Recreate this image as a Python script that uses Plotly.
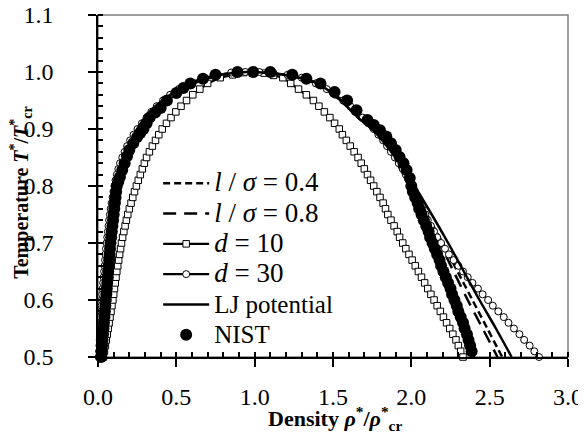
import plotly.graph_objects as go

# ---------------- data ----------------
T_grid = [0.50, 0.51, 0.52, 0.53, 0.54, 0.55, 0.56, 0.57, 0.58, 0.59,
          0.60, 0.61, 0.62, 0.63, 0.64, 0.65, 0.66, 0.67, 0.68, 0.69,
          0.70, 0.71, 0.72, 0.73, 0.74, 0.75, 0.76, 0.77, 0.78, 0.79,
          0.80, 0.81, 0.82, 0.83, 0.84, 0.85, 0.86, 0.87, 0.88, 0.89,
          0.90, 0.91, 0.92, 0.93, 0.94, 0.95, 0.96, 0.97, 0.98, 0.99]

# d = 10 (squares)
d10_vap = [0.035, 0.041, 0.047, 0.053, 0.059, 0.065, 0.071, 0.077, 0.083, 0.089,
           0.095, 0.100, 0.105, 0.110, 0.115, 0.120, 0.126, 0.132, 0.138, 0.144,
           0.150, 0.157, 0.165, 0.173, 0.181, 0.190, 0.200, 0.211, 0.222, 0.233,
           0.245, 0.257, 0.270, 0.283, 0.296, 0.310, 0.328, 0.347, 0.367, 0.388,
           0.410, 0.437, 0.466, 0.497, 0.530, 0.565, 0.605, 0.650, 0.700, 0.780]
d10_liq = [2.330, 2.315, 2.300, 2.285, 2.265, 2.245, 2.225, 2.205, 2.185, 2.165,
           2.145, 2.125, 2.105, 2.085, 2.065, 2.045, 2.025, 2.005, 1.985, 1.965,
           1.945, 1.925, 1.910, 1.890, 1.870, 1.850, 1.835, 1.820, 1.800, 1.780,
           1.760, 1.740, 1.720, 1.700, 1.680, 1.660, 1.635, 1.610, 1.585, 1.560,
           1.540, 1.510, 1.480, 1.445, 1.410, 1.375, 1.330, 1.280, 1.230, 1.180]
d10_top_rho = [0.86, 0.93, 1.00, 1.06, 1.12]
d10_top_T = [0.995, 0.999, 1.000, 0.998, 0.994]

# d = 30 (open circles)
d30_vap = [0.005, 0.007, 0.009, 0.011, 0.013, 0.015, 0.017, 0.019, 0.021, 0.023,
           0.025, 0.027, 0.030, 0.033, 0.036, 0.039, 0.042, 0.045, 0.048, 0.051,
           0.055, 0.059, 0.063, 0.067, 0.071, 0.076, 0.081, 0.087, 0.093, 0.099,
           0.105, 0.112, 0.120, 0.130, 0.141, 0.155, 0.170, 0.186, 0.205, 0.227,
           0.252, 0.280, 0.310, 0.340, 0.375, 0.415, 0.460, 0.515, 0.580, 0.670]
d30_liq = [2.815, 2.785, 2.755, 2.720, 2.690, 2.655, 2.620, 2.590, 2.555, 2.520,
           2.490, 2.455, 2.425, 2.390, 2.360, 2.330, 2.300, 2.270, 2.240, 2.215,
           2.190, 2.165, 2.145, 2.125, 2.105, 2.090, 2.070, 2.055, 2.040, 2.020,
           2.000, 1.985, 1.965, 1.945, 1.920, 1.895, 1.870, 1.845, 1.820, 1.790,
           1.760, 1.725, 1.690, 1.650, 1.610, 1.565, 1.515, 1.460, 1.390, 1.300]
d30_top_rho = [0.76, 0.85, 0.94, 1.03, 1.12, 1.21]
d30_top_T = [0.995, 0.999, 1.000, 1.000, 0.998, 0.995]

# LJ potential (solid line)
lj_rho = [0.015, 0.030, 0.045, 0.060, 0.080, 0.100, 0.125, 0.170, 0.250, 0.330,
          0.410, 0.520, 0.600, 0.700, 0.800, 0.950, 1.100, 1.250, 1.400, 1.550,
          1.660, 1.750, 1.900, 2.020, 2.130, 2.235, 2.335, 2.435, 2.540, 2.640]
lj_T = [0.50, 0.55, 0.60, 0.65, 0.70, 0.75, 0.80, 0.85, 0.90, 0.93,
        0.95, 0.97, 0.98, 0.99, 0.996, 1.00, 0.998, 0.992, 0.98, 0.95,
        0.92, 0.90, 0.85, 0.80, 0.75, 0.70, 0.65, 0.60, 0.55, 0.50]

# l/sigma = 0.4 (short dash)
l04_rho = [0.020, 0.035, 0.050, 0.065, 0.085, 0.105, 0.130, 0.175, 0.260, 0.340,
           0.420, 0.530, 0.610, 0.710, 0.820, 0.950, 1.100, 1.250, 1.400, 1.550,
           1.660, 1.750, 1.890, 2.000, 2.100, 2.200, 2.295, 2.390, 2.485, 2.580]
l04_T = [0.50, 0.55, 0.60, 0.65, 0.70, 0.75, 0.80, 0.85, 0.90, 0.93,
         0.95, 0.97, 0.98, 0.99, 0.996, 1.00, 0.998, 0.992, 0.98, 0.95,
         0.92, 0.90, 0.85, 0.80, 0.75, 0.70, 0.65, 0.60, 0.55, 0.50]

# l/sigma = 0.8 (long dash)
l08_rho = [0.020, 0.035, 0.050, 0.065, 0.085, 0.105, 0.130, 0.175, 0.260, 0.340,
           0.420, 0.530, 0.610, 0.710, 0.820, 0.950, 1.100, 1.250, 1.400, 1.550,
           1.660, 1.750, 1.885, 1.990, 2.085, 2.180, 2.270, 2.360, 2.455, 2.550]
l08_T = [0.50, 0.55, 0.60, 0.65, 0.70, 0.75, 0.80, 0.85, 0.90, 0.93,
         0.95, 0.97, 0.98, 0.99, 0.996, 1.00, 0.998, 0.992, 0.98, 0.95,
         0.92, 0.90, 0.85, 0.80, 0.75, 0.70, 0.65, 0.60, 0.55, 0.50]

# NIST (filled circles)
nist_rho = [0.020, 0.023, 0.026, 0.029, 0.032, 0.035, 0.038, 0.041, 0.044, 0.047,
            0.050, 0.053, 0.056, 0.059, 0.062, 0.065, 0.068, 0.071, 0.074, 0.077,
            0.080, 0.084, 0.088, 0.092, 0.096, 0.100, 0.104, 0.108, 0.112, 0.116,
            0.120, 0.130, 0.140, 0.155, 0.170, 0.185, 0.200, 0.225, 0.250, 0.270,
            0.290, 0.310, 0.330, 0.365, 0.400, 0.440, 0.500, 0.545, 0.590, 0.670,
            0.750, 0.890, 0.990, 1.100, 1.240, 1.330, 1.420, 1.510, 1.590, 1.650,
            1.720, 1.760, 1.800, 1.840, 1.870, 1.900, 1.925, 1.950, 1.970, 1.990,
            2.000, 2.010, 2.025, 2.040, 2.050, 2.065, 2.080, 2.095, 2.110, 2.120,
            2.135, 2.150, 2.165, 2.180, 2.190, 2.205, 2.220, 2.235, 2.250, 2.260,
            2.275, 2.290, 2.300, 2.315, 2.330, 2.340, 2.355, 2.365, 2.375, 2.385]
nist_T = [0.50, 0.51, 0.52, 0.53, 0.54, 0.55, 0.56, 0.57, 0.58, 0.59,
          0.60, 0.61, 0.62, 0.63, 0.64, 0.65, 0.66, 0.67, 0.68, 0.69,
          0.70, 0.71, 0.72, 0.73, 0.74, 0.75, 0.76, 0.77, 0.78, 0.79,
          0.80, 0.808, 0.816, 0.828, 0.84, 0.852, 0.863, 0.875, 0.886, 0.893,
          0.90, 0.91, 0.92, 0.929, 0.937, 0.95, 0.963, 0.972, 0.98, 0.988,
          0.995, 1.00, 1.00, 1.00, 0.995, 0.988, 0.98, 0.965, 0.95, 0.933,
          0.916, 0.907, 0.898, 0.887, 0.875, 0.863, 0.851, 0.84, 0.828, 0.814,
          0.80, 0.79, 0.78, 0.77, 0.76, 0.75, 0.74, 0.73, 0.72, 0.71,
          0.70, 0.69, 0.68, 0.67, 0.66, 0.65, 0.64, 0.63, 0.62, 0.61,
          0.60, 0.59, 0.58, 0.57, 0.56, 0.55, 0.54, 0.53, 0.52, 0.51]

x_ticks = [0.0, 0.5, 1.0, 1.5, 2.0, 2.5, 3.0]
y_ticks = [0.5, 0.6, 0.7, 0.8, 0.9, 1.0, 1.1]

x_title = "<b>Density <i>ρ</i><sup>*</sup>/<i>ρ</i><sup>*</sup><sub>cr</sub></b>"
y_title = "<b>Temperature <i>T</i><sup>*</sup>/<i>T</i><sup>*</sup><sub>cr</sub></b>"

# ---------------- assemble ----------------
d10_x = d10_vap + d10_top_rho + d10_liq[::-1]
d10_y = T_grid + d10_top_T + T_grid[::-1]
d30_x = d30_vap + d30_top_rho + d30_liq[::-1]
d30_y = T_grid + d30_top_T + T_grid[::-1]

FONT = "Liberation Serif"
MATH = '<span style="font-size:27px">{}</span>'
PLAIN = '<span style="font-size:25px">{}</span>'
NB = "\u00a0"

fig = go.Figure()

fig.add_trace(go.Scatter(
    x=l04_rho, y=l04_T, mode="lines",
    name=MATH.format(f"<i>l</i>{NB}/{NB}<i>σ</i>{NB}={NB}0.4"),
    line=dict(color="black", width=2.5, dash="7px,4px", shape="spline", smoothing=0.8),
    cliponaxis=False))
fig.add_trace(go.Scatter(
    x=l08_rho, y=l08_T, mode="lines",
    name=MATH.format(f"<i>l</i>{NB}/{NB}<i>σ</i>{NB}={NB}0.8"),
    line=dict(color="black", width=2.5, dash="13px,8px", shape="spline", smoothing=0.8),
    cliponaxis=False))
fig.add_trace(go.Scatter(
    x=d10_x, y=d10_y, mode="lines+markers",
    name=MATH.format(f"<i>d</i>{NB}={NB}10"),
    line=dict(color="black", width=2.2),
    marker=dict(symbol="square", size=6.5, color="white", line=dict(color="black", width=1)),
    cliponaxis=False))
fig.add_trace(go.Scatter(
    x=d30_x, y=d30_y, mode="lines+markers",
    name=MATH.format(f"<i>d</i>{NB}={NB}30"),
    line=dict(color="black", width=2.2),
    marker=dict(symbol="circle", size=7, color="white", line=dict(color="black", width=1)),
    cliponaxis=False))
fig.add_trace(go.Scatter(
    x=lj_rho, y=lj_T, mode="lines", name=PLAIN.format("LJ potential"),
    line=dict(color="black", width=2.5, shape="spline", smoothing=0.8),
    cliponaxis=False))
fig.add_trace(go.Scatter(
    x=nist_rho, y=nist_T, mode="markers", name=PLAIN.format("NIST"),
    marker=dict(symbol="circle", size=12, color="black"),
    cliponaxis=False))

fig.add_shape(type="rect", xref="paper", yref="paper", x0=0, y0=0, x1=1, y1=1,
              line=dict(color="#808080", width=1.5), layer="below")

axis_common = dict(
    showgrid=False, zeroline=False, showline=True, linecolor="black", linewidth=1.5,
    ticks="outside", ticklen=8, tickwidth=1.5, tickcolor="black",
    tickfont=dict(family=FONT, size=24, color="black"),
    tickformat=".1f", automargin=False, ticklabeloverflow="allow",
)

fig.update_xaxes(
    range=[0, 3.0], tickvals=x_ticks, ticklabelstandoff=9,
    minor=dict(dtick=0.1, ticks="inside", ticklen=5, tickwidth=1.5, tickcolor="black"),
    **axis_common)
fig.update_yaxes(
    range=[0.5, 1.1], tickvals=y_ticks, ticklabelstandoff=30,
    minor=dict(dtick=0.02, ticks="inside", ticklen=5, tickwidth=1.5, tickcolor="black"),
    **axis_common)

fig.add_annotation(text=x_title, xref="paper", yref="paper", x=0.504, y=-0.180,
                   xanchor="center", yanchor="middle", showarrow=False,
                   font=dict(family=FONT, size=22, color="black"))
fig.add_annotation(text=y_title, xref="paper", yref="paper", x=-0.1625, y=0.482,
                   xanchor="center", yanchor="middle", showarrow=False, textangle=-90,
                   font=dict(family=FONT, size=20, color="black"))

# the page body has an 8px margin, so the figure is 8px smaller than the window
fig.update_layout(
    width=578, height=425,
    margin=dict(l=90, r=18, t=7, b=76),
    paper_bgcolor="white", plot_bgcolor="white",
    font=dict(family=FONT, color="black"),
    showlegend=True,
    legend=dict(x=0.128, y=0.567, xanchor="left", yanchor="top",
                bgcolor="rgba(0,0,0,0)", borderwidth=0,
                font=dict(family=FONT, size=21, color="black"),
                tracegroupgap=0, itemwidth=46),
)

fig.write_html("out.html")
